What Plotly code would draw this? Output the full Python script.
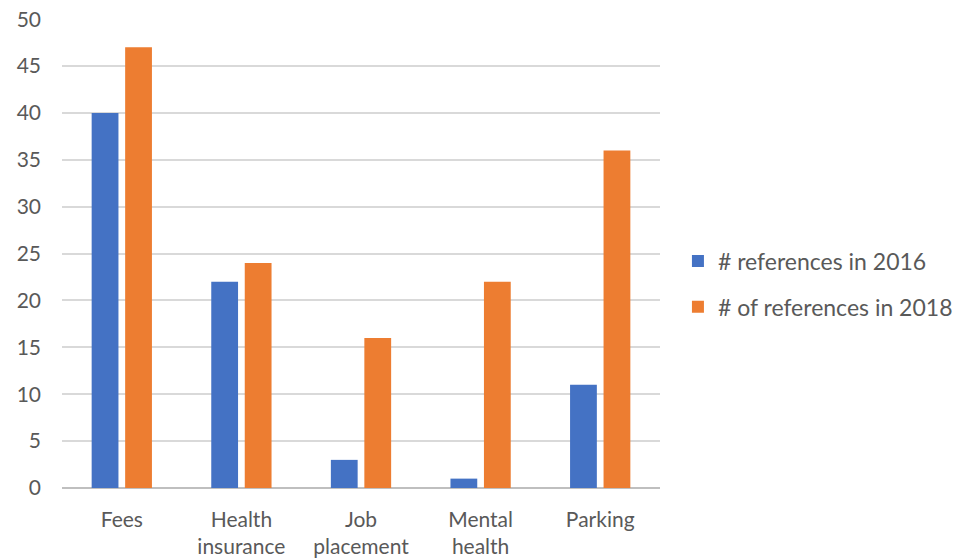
import plotly.graph_objects as go

categories = ["Fees", "Health<br>insurance", "Job<br>placement", "Mental<br>health", "Parking"]
refs_2016 = [40, 22, 3, 1, 11]
refs_2018 = [47, 24, 16, 22, 36]
y_ticks = [0, 5, 10, 15, 20, 25, 30, 35, 40, 45, 50]

FONT = "Lato, 'Open Sans', sans-serif"
GREY = "#595959"

fig = go.Figure()
fig.add_trace(go.Bar(x=categories, y=refs_2016, name="# references in 2016",
                     legendgroup="a",
                     marker=dict(color="#4472C4", line=dict(width=0))))
fig.add_trace(go.Bar(x=categories, y=refs_2018, name="# of references in 2018",
                     legendgroup="b",
                     marker=dict(color="#ED7D31", line=dict(width=0))))

fig.update_layout(
    width=956, height=560,
    margin=dict(l=62, r=296, t=19, b=72, pad=0, autoexpand=False),
    paper_bgcolor="white", plot_bgcolor="white",
    barmode="group", bargap=0.44, bargroupgap=0.2,
    font=dict(family=FONT, size=21, color=GREY),
    showlegend=True,
    legend=dict(x=1.03, xanchor="left", y=0.435, yanchor="middle",
                font=dict(size=23, color=GREY), tracegroupgap=13,
                itemsizing="constant", itemwidth=30,
                bgcolor="rgba(0,0,0,0)"),
)
fig.update_yaxes(range=[0, 50.02], tickvals=y_ticks, showgrid=True,
                 gridcolor="#d9d9d9", gridwidth=1.5, zeroline=True,
                 zerolinecolor="#bfbfbf", zerolinewidth=1.5,
                 ticks="", ticklabelstandoff=20, fixedrange=True,
                 automargin=False, tickfont=dict(size=21))
fig.update_xaxes(showline=False, ticks="", ticklabelstandoff=17,
                 tickangle=0, fixedrange=True, automargin=False,
                 tickfont=dict(size=21))

fig.write_html("out.html")
